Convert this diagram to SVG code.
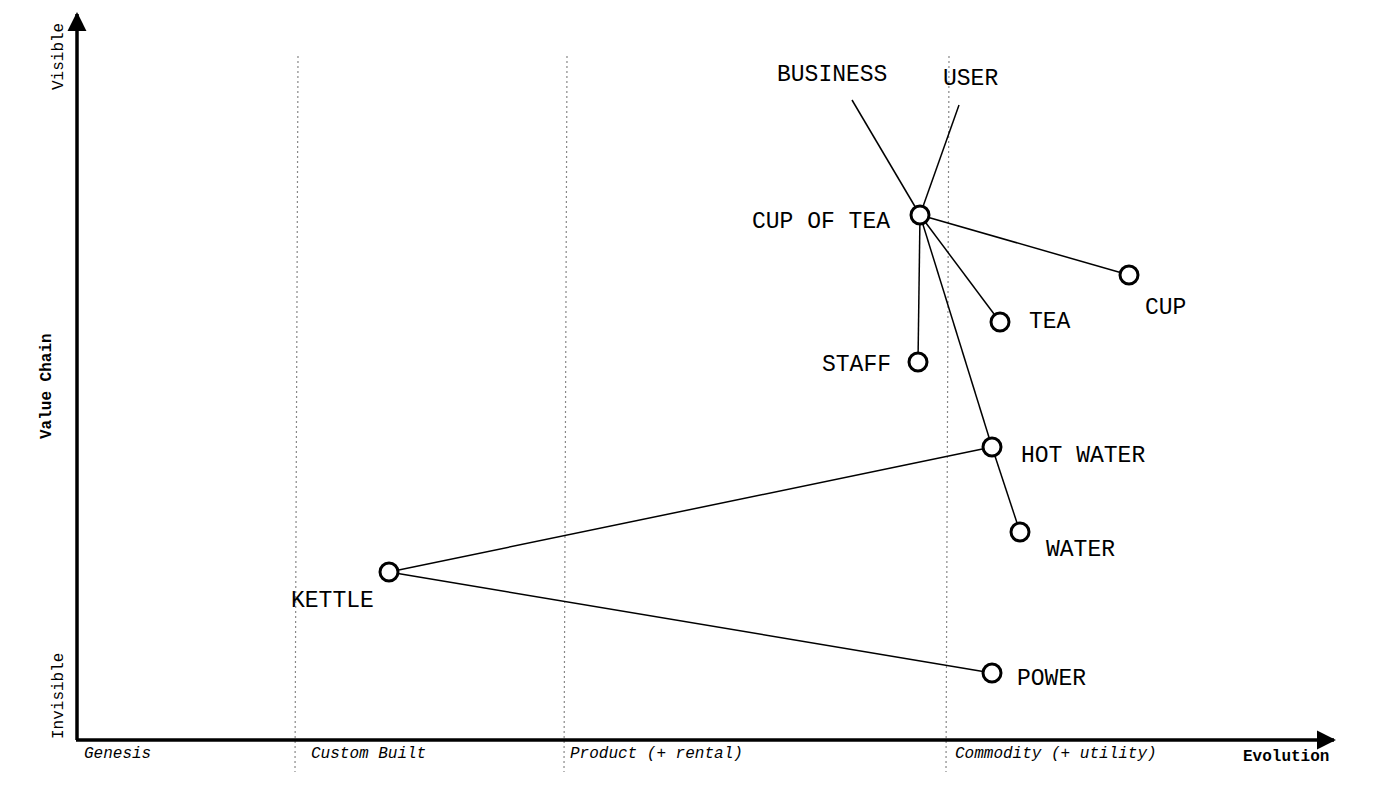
<svg xmlns="http://www.w3.org/2000/svg" width="1400" height="788" viewBox="0 0 1400 788">
<defs>
<style>
.axis{stroke:#000;stroke-width:3.5;fill:none}
.grid{stroke:#888;stroke-width:1.2;stroke-dasharray:2 3;fill:none}
.link{stroke:#000;stroke-width:1.5;fill:none}
.node{fill:#fff;stroke:#000;stroke-width:3}
.lbl{font-family:"Liberation Mono","Courier New",monospace;font-size:23px;fill:#000}
.stage{font-family:"Liberation Mono","Courier New",monospace;font-size:16px;font-style:italic;fill:#000}
.ax{font-family:"Liberation Mono","Courier New",monospace;font-size:16px;fill:#000}
.b{font-weight:bold}
</style>
<marker id="ah" viewBox="0 0 10 10" refX="9" refY="5" markerWidth="5.5" markerHeight="5.5" orient="auto" markerUnits="strokeWidth">
<path d="M0,0 L10,5 L0,10 z" fill="#000"/>
</marker>
</defs>
<rect width="1400" height="788" fill="#fff"/>
<g id="grid">
<line class="grid" x1="298" y1="56" x2="295" y2="772"/>
<line class="grid" x1="567" y1="56" x2="564" y2="772"/>
<line class="grid" x1="949" y1="56" x2="946" y2="772"/>
</g>
<g id="axes">
<line class="axis" x1="77" y1="740" x2="77" y2="14" marker-end="url(#ah)"/>
<line class="axis" x1="76" y1="740" x2="1334" y2="740" marker-end="url(#ah)"/>
<text class="ax" transform="translate(63,90) rotate(-90)">Visible</text>
<text class="ax b" transform="translate(51,439) rotate(-90)">Value Chain</text>
<text class="ax" transform="translate(63,739) rotate(-90)">Invisible</text>
<text class="ax b" x="1243" y="761">Evolution</text>
<text class="stage" x="84" y="758">Genesis</text>
<text class="stage" x="311" y="758">Custom Built</text>
<text class="stage" x="570" y="758">Product (+ rental)</text>
<text class="stage" x="955" y="758">Commodity (+ utility)</text>
</g>
<g id="connectors">
<line class="link" x1="852" y1="100" x2="920" y2="215"/>
<line class="link" x1="959" y1="105" x2="920" y2="215"/>
<line class="link" x1="920" y1="215" x2="1129" y2="275"/>
<line class="link" x1="920" y1="215" x2="1000" y2="322"/>
<line class="link" x1="920" y1="215" x2="918" y2="362"/>
<line class="link" x1="920" y1="215" x2="992" y2="447"/>
<line class="link" x1="992" y1="447" x2="1020" y2="532"/>
<line class="link" x1="389" y1="572" x2="992" y2="447"/>
<line class="link" x1="389" y1="572" x2="992" y2="673"/>
</g>
<g id="business"><text class="lbl" x="777" y="81">BUSINESS</text></g>
<g id="user"><text class="lbl" x="943" y="85">USER</text></g>
<g id="cup-of-tea"><circle class="node" cx="920" cy="215" r="9"/><text class="lbl" x="752" y="228">CUP OF TEA</text></g>
<g id="cup"><circle class="node" cx="1129" cy="275" r="9"/><text class="lbl" x="1145" y="314">CUP</text></g>
<g id="tea"><circle class="node" cx="1000" cy="322" r="9"/><text class="lbl" x="1029" y="328">TEA</text></g>
<g id="staff"><circle class="node" cx="918" cy="362" r="9"/><text class="lbl" x="822" y="371">STAFF</text></g>
<g id="hot-water"><circle class="node" cx="992" cy="447" r="9"/><text class="lbl" x="1021" y="462">HOT WATER</text></g>
<g id="water"><circle class="node" cx="1020" cy="532" r="9"/><text class="lbl" x="1046" y="556">WATER</text></g>
<g id="kettle"><circle class="node" cx="389" cy="572" r="9"/><text class="lbl" x="291" y="607">KETTLE</text></g>
<g id="power"><circle class="node" cx="992" cy="673" r="9"/><text class="lbl" x="1017" y="685">POWER</text></g>
</svg>
